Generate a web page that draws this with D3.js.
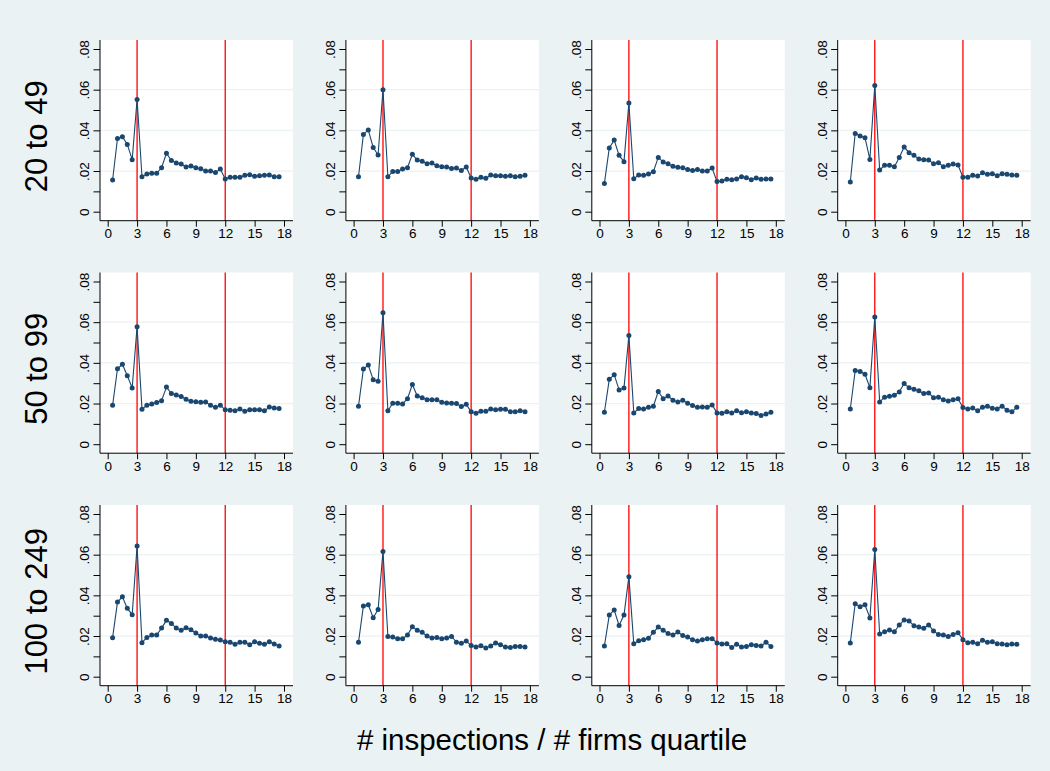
<!DOCTYPE html>
<html>
<head>
<meta charset="utf-8">
<script src="https://cdn.jsdelivr.net/npm/d3@7"></script>
<style>
  html, body { margin: 0; padding: 0; background: #eaf2f3; }
  svg { display: block; }
  text { font-family: Arial, "Liberation Sans", sans-serif; fill: #000; }
</style>
</head>
<body>
<svg id="chart" width="1050" height="771"></svg>
<script>
// Inspection index positions (half-step bins)
const xPositions = [0.5, 1, 1.5, 2, 2.5, 3, 3.5, 4, 4.5, 5, 5.5, 6, 6.5, 7, 7.5, 8, 8.5, 9, 9.5,
  10, 10.5, 11, 11.5, 12, 12.5, 13, 13.5, 14, 14.5, 15, 15.5, 16, 16.5, 17, 17.5];

// Firm size classes (rows)
const sizeClasses = ["20 to 49", "50 to 99", "100 to 249"];

// Size 20 to 49, quartiles 1-4
const s20_49_q1 = [.0156, .0360, .0369, .0331, .0256, .0552, .0172, .0185, .0189, .0189, .0216, .0287, .0252, .0239, .0234, .0220, .0225, .0216, .0211, .0200, .0200, .0193, .0210, .0161, .0170, .0170, .0169, .0179, .0182, .0174, .0177, .0179, .0180, .0172, .0172];
const s20_49_q2 = [.0172, .0380, .0402, .0316, .0279, .0600, .0172, .0198, .0198, .0210, .0216, .0282, .0254, .0248, .0236, .0239, .0226, .0221, .0220, .0213, .0215, .0203, .0220, .0166, .0159, .0169, .0164, .0180, .0177, .0177, .0174, .0177, .0172, .0174, .0179];
const s20_49_q3 = [.0139, .0313, .0352, .0277, .0246, .0534, .0162, .0180, .0179, .0185, .0197, .0267, .0244, .0236, .0223, .0218, .0216, .0207, .0202, .0207, .0200, .0200, .0215, .0148, .0151, .0159, .0157, .0161, .0172, .0167, .0157, .0166, .0159, .0161, .0161];
const s20_49_q4 = [.0146, .0385, .0372, .0364, .0257, .0621, .0205, .0228, .0228, .0221, .0267, .0318, .0290, .0277, .0259, .0256, .0254, .0236, .0241, .0221, .0228, .0234, .0230, .0170, .0170, .0179, .0175, .0192, .0184, .0187, .0177, .0187, .0184, .0180, .0179];

// Size 50 to 99, quartiles 1-4
const s50_99_q1 = [.0191, .0371, .0393, .0337, .0276, .0578, .0172, .0191, .0198, .0205, .0214, .0281, .0249, .0242, .0234, .0221, .0211, .0209, .0206, .0208, .0191, .0182, .0191, .0169, .0167, .0165, .0173, .0162, .0170, .0169, .0170, .0164, .0183, .0178, .0175];
const s50_99_q2 = [.0187, .0370, .0389, .0317, .0309, .0646, .0164, .0201, .0201, .0198, .0224, .0293, .0237, .0229, .0219, .0218, .0218, .0206, .0203, .0201, .0200, .0185, .0196, .0159, .0152, .0162, .0162, .0173, .0170, .0172, .0172, .0160, .0159, .0164, .0160];
const s50_99_q3 = [.0157, .0319, .0342, .0267, .0276, .0535, .0154, .0175, .0173, .0182, .0187, .0259, .0224, .0237, .0216, .0208, .0216, .0201, .0190, .0182, .0183, .0182, .0193, .0154, .0152, .0160, .0154, .0165, .0155, .0159, .0154, .0151, .0141, .0149, .0157];
const s50_99_q4 = [.0173, .0362, .0358, .0344, .0278, .0625, .0208, .0231, .0236, .0241, .0257, .0299, .0277, .0270, .0263, .0249, .0252, .0229, .0231, .0219, .0213, .0218, .0223, .0180, .0173, .0178, .0165, .0182, .0187, .0177, .0173, .0187, .0167, .0159, .0182];

// Size 100 to 249, quartiles 1-4
const s100_249_q1 = [.0192, .0367, .0393, .0336, .0305, .0643, .0167, .0193, .0205, .0205, .0239, .0277, .0262, .0239, .0228, .0241, .0231, .0215, .0200, .0200, .0190, .0184, .0180, .0172, .0169, .0159, .0169, .0169, .0157, .0172, .0164, .0159, .0172, .0161, .0151];
const s100_249_q2 = [.0169, .0348, .0354, .0290, .0330, .0616, .0198, .0195, .0187, .0187, .0205, .0246, .0228, .0218, .0200, .0190, .0193, .0187, .0190, .0198, .0170, .0164, .0175, .0154, .0146, .0152, .0141, .0151, .0166, .0157, .0146, .0144, .0149, .0149, .0146];
const s100_249_q3 = [.0151, .0303, .0328, .0252, .0303, .0492, .0162, .0177, .0182, .0189, .0218, .0244, .0228, .0213, .0205, .0220, .0202, .0195, .0182, .0175, .0182, .0187, .0187, .0166, .0161, .0162, .0144, .0159, .0146, .0149, .0157, .0154, .0151, .0170, .0149];
const s100_249_q4 = [.0166, .0359, .0344, .0354, .0289, .0625, .0210, .0221, .0230, .0221, .0254, .0279, .0274, .0251, .0244, .0238, .0254, .0225, .0208, .0205, .0198, .0208, .0216, .0182, .0167, .0169, .0162, .0179, .0169, .0172, .0162, .0161, .0157, .0161, .0159];

// Reference cutoffs drawn as vertical lines
const cutoffs = [3, 12];

// Axis ticks and labels
const xTicks = [0, 3, 6, 9, 12, 15, 18];
const yTicks = [0, .01, .02, .03, .04, .05, .06, .07, .08];
const yLabelled = [0, .02, .04, .06, .08];
const yGrid = [.02, .04, .06];
const xTitle = "# inspections / # firms quartile";

const panelRows = [
  [s20_49_q1, s20_49_q2, s20_49_q3, s20_49_q4],
  [s50_99_q1, s50_99_q2, s50_99_q3, s50_99_q4],
  [s100_249_q1, s100_249_q2, s100_249_q3, s100_249_q4]
];

// Layout
const W = 1050, H = 771;
const left0 = 100, colStep = 245.9;
const top0 = 40, rowStep = 232.5;
const plotW = 193, plotH = 180.7;
const padL = 7.7, padR = 9, padY = 9;

const navy = "#1a476f";
const red = "#ff0000";
const gridColor = "#eaf2f3";

const svg = d3.select("#chart");
svg.append("rect").attr("width", W).attr("height", H).attr("fill", "#eaf2f3");

const x = d3.scaleLinear().domain([0, 18]).range([padL, plotW - padR]);
const y = d3.scaleLinear().domain([0, 0.08]).range([plotH - padY, padY]);
const fmtY = v => v === 0 ? "0" : d3.format(".2f")(v).replace(/^0/, "");

panelRows.forEach((row, r) => {
  row.forEach((series, c) => {
    const g = svg.append("g")
      .attr("transform", `translate(${left0 + c * colStep},${top0 + r * rowStep})`);

    // plot region
    g.append("rect").attr("width", plotW).attr("height", plotH).attr("fill", "#fff");

    // horizontal grid
    g.selectAll("line.grid").data(yGrid).join("line")
      .attr("class", "grid")
      .attr("x1", 0).attr("x2", plotW)
      .attr("y1", d => y(d)).attr("y2", d => y(d))
      .attr("stroke", gridColor).attr("stroke-width", 1.2);

    // cutoff lines
    g.selectAll("line.cut").data(cutoffs).join("line")
      .attr("class", "cut")
      .attr("x1", d => x(d)).attr("x2", d => x(d))
      .attr("y1", 0).attr("y2", plotH)
      .attr("stroke", red).attr("stroke-width", 1.3);

    // series line and markers
    const pts = xPositions.map((xv, i) => [xv, series[i]]);
    g.append("path")
      .datum(pts)
      .attr("fill", "none")
      .attr("stroke", navy)
      .attr("stroke-width", 1.1)
      .attr("d", d3.line().x(d => x(d[0])).y(d => y(d[1])));
    g.selectAll("circle").data(pts).join("circle")
      .attr("cx", d => x(d[0])).attr("cy", d => y(d[1]))
      .attr("r", 2.5).attr("fill", navy);

    // y axis
    const ya = g.append("g").call(
      d3.axisLeft(y).tickValues(yTicks).tickSize(6.5)
        .tickFormat(d => yLabelled.some(v => Math.abs(v - d) < 1e-9) ? fmtY(d) : "")
    );
    ya.select(".domain").remove();
    ya.selectAll(".tick line").attr("stroke", "#000").attr("stroke-width", 1);
    ya.selectAll(".tick text")
      .attr("x", null).attr("dy", null)
      .attr("transform", "translate(-11,0) rotate(-90)")
      .attr("text-anchor", "middle")
      .attr("font-size", 13.5)
      .attr("fill", "#000");
    g.append("line").attr("x1", 0).attr("x2", 0).attr("y1", 0).attr("y2", plotH)
      .attr("stroke", "#000").attr("stroke-width", 1);

    // x axis
    const xa = g.append("g").attr("transform", `translate(0,${plotH})`).call(
      d3.axisBottom(x).tickValues(xTicks).tickSize(6).tickFormat(d3.format("d"))
    );
    xa.select(".domain").remove();
    xa.selectAll(".tick line").attr("stroke", "#000").attr("stroke-width", 1);
    xa.selectAll(".tick text")
      .attr("y", 17.6).attr("dy", null)
      .attr("font-size", 13.5)
      .attr("fill", "#000");
    g.append("line").attr("x1", 0).attr("x2", plotW).attr("y1", plotH).attr("y2", plotH)
      .attr("stroke", "#000").attr("stroke-width", 1);
  });

  // row label
  const cy = top0 + r * rowStep + plotH / 2 + 6;
  svg.append("text")
    .attr("transform", `translate(47,${cy}) rotate(-90)`)
    .attr("text-anchor", "middle")
    .attr("font-size", 31)
    .text(sizeClasses[r]);
});

// x-axis title
svg.append("text")
  .attr("x", 552)
  .attr("y", 750)
  .attr("text-anchor", "middle")
  .attr("font-size", 29.5)
  .text(xTitle);
</script>
</body>
</html>
